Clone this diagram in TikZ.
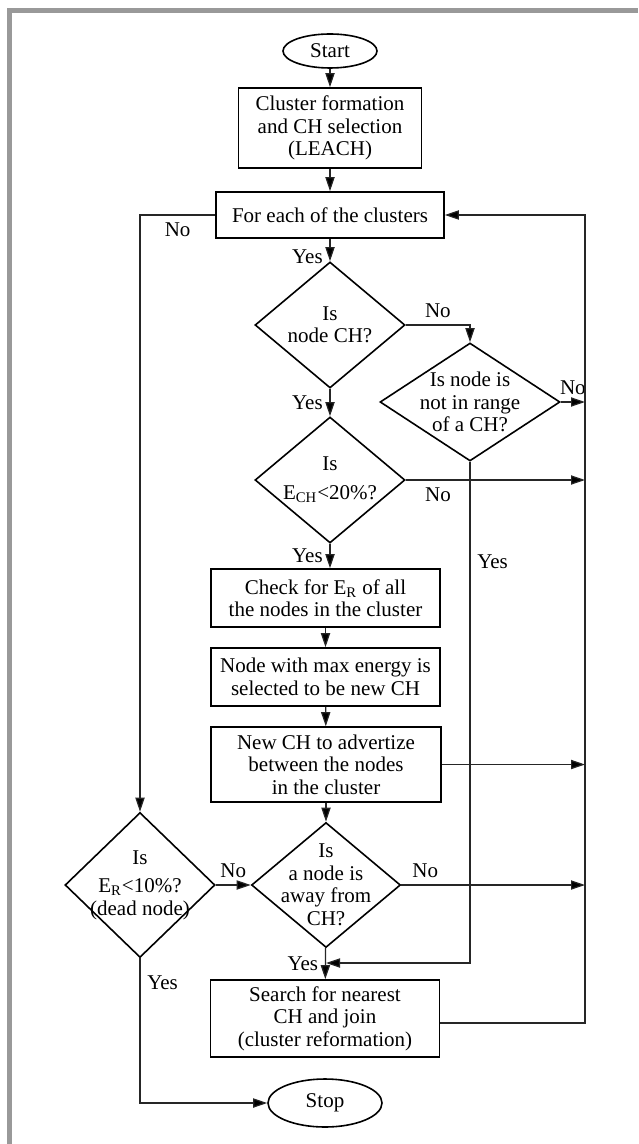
\documentclass[tikz,border=0pt]{standalone}
\usepackage{fontspec}
\setmainfont{Liberation Serif}
\usetikzlibrary{shapes.geometric,arrows.meta}

\definecolor{framegray}{gray}{0.6}

\tikzset{
  box/.style={draw, line width=0.8pt, rectangle, align=center, inner sep=2pt,
    minimum width=114.5pt, minimum height=29pt},
  decision/.style={draw, line width=0.8pt, diamond, align=center, inner sep=-1em},
  term/.style={draw, line width=0.8pt, ellipse, inner sep=0pt},
  arr/.style={draw=black!85, line width=0.6pt, -{Triangle[length=7pt,width=4.6pt,fill=black]}},
}

\begin{document}
\begin{tikzpicture}[x=0.5pt, y=-0.5pt, font=\fontsize{10.5}{11.25}\selectfont]
\useasboundingbox (0,0) rectangle (638,1144);

% frame
\fill[framegray] (7,8) rectangle (638,13);
\fill[framegray] (7,8) rectangle (12,1144);

\coordinate (rx) at (585,0);
\coordinate (j) at (326,963);

\node[term, minimum width=47pt, minimum height=17pt] (start) at (330,51) {Start};
\node[box, minimum width=91.5pt, minimum height=40pt] (leach) at (330,128) {Cluster formation\\and CH selection\\(LEACH)};
\node[box, minimum width=114pt, minimum height=23pt] (foreach) at (330,215) {For each of the clusters};
\node[decision, minimum width=75pt, minimum height=63pt] (isch) at (330,325) {Is\\node CH?};
\node[decision, minimum width=90pt, minimum height=59pt] (range) at (470,402) {Is node is\\not in range\\of a CH?};
\node[decision, minimum width=75pt, minimum height=63pt] (ech) at (330,480) {Is\\[3pt]E\textsubscript{CH}<20\%?};
\node[box] (check) at (325.5,598) {Check for E\textsubscript{R} of all\\the nodes in the cluster};
\node[box] (maxe) at (325.5,677) {Node with max energy is\\selected to be new CH};
\node[box, minimum width=115pt, minimum height=37.5pt] (advert) at (326,764.5) {New CH to advertize\\between the nodes\\in the cluster};
\node[decision, minimum width=75pt, minimum height=72.5pt] (dead) at (140,885) {Is\\[3pt]E\textsubscript{R}<10\%?\\(dead node)};
\node[decision, minimum width=74.5pt, minimum height=62.5pt] (away) at (326,885) {Is\\a node is\\away from\\CH?};
\node[box, minimum width=114.5pt, minimum height=38.5pt] (search) at (325,1018.5) {Search for nearest\\CH and join\\(cluster reformation)};
\node[term, minimum width=57pt, minimum height=24pt] (stop) at (325,1103) {Stop};

\coordinate (se) at ([yshift=-2.25pt]search.east);

\draw[arr] (start) -- (leach);
\draw[arr] (leach) -- (foreach);
\draw[arr] (foreach) -- node[pos=0.8, left] {Yes} (isch);
\draw[arr] (isch.east) -| node[pos=0.25, above] {No} (range.north);
\draw[arr] (range.east) -- node[above] {No} (rx |- range.east);
\draw[arr] (isch) -- node[left] {Yes} (ech);
\draw[arr] (ech.east) -- node[pos=0.18, below] {No} (rx |- ech.east);
\draw[arr] (range.south) |- node[pos=0.1, right] {Yes} (j);
\draw[arr] (ech.south) -- node[left] {Yes} (ech.south |- check.north);
\draw[arr] (check) -- (maxe);
\draw[arr] (maxe) -- (advert);
\draw[arr] (advert.east) -- (rx |- advert.east);
\draw[arr] (advert) -- (away);
\draw[arr] (away.east) -- node[pos=0.13, above] {No} (rx |- away.east);
\draw[arr] (away) -- node[left] {Yes} (search);
\draw[arr] (se) -- (rx |- se) -- (rx |- foreach.east) -- (foreach.east);
\draw[arr] (foreach.west) -| node[pos=0.25, below] {No} (dead.north);
\draw[arr] (dead.east) -- node[above] {No} (away.west);
\draw[arr] (dead.south) |- node[pos=0.085, right] {Yes} (stop.west);

\end{tikzpicture}
\end{document}
